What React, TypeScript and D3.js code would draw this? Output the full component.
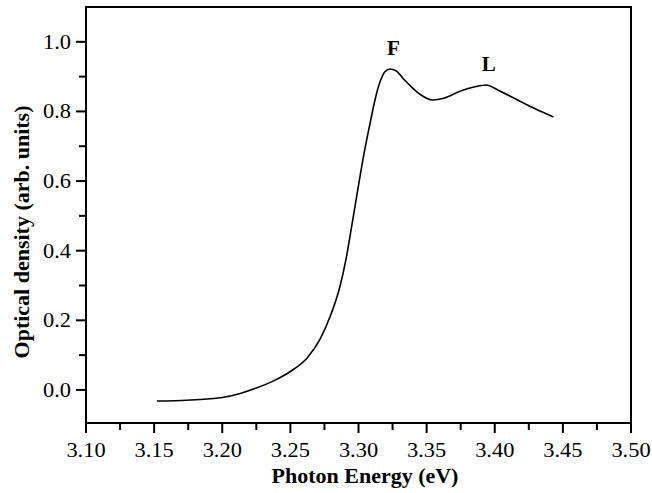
import React from "react";
import * as d3 from "d3";

// photon energy (eV) and optical density
const energy = [3.152, 3.165, 3.1765, 3.1887, 3.201, 3.2132, 3.2255, 3.2377, 3.25, 3.2623, 3.2717, 3.2791, 3.2864, 3.2908, 3.2952, 3.2996, 3.304, 3.3084, 3.3121, 3.3158, 3.3194, 3.3231, 3.3275, 3.3329, 3.339, 3.3456, 3.3542, 3.3627, 3.375, 3.3848, 3.3934, 3.4044, 3.4167, 3.4289, 3.4431];
const density = [-0.032, -0.031, -0.029, -0.026, -0.021, -0.01, 0.006, 0.026, 0.053, 0.092, 0.145, 0.21, 0.297, 0.375, 0.475, 0.578, 0.678, 0.764, 0.833, 0.885, 0.914, 0.922, 0.917, 0.894, 0.87, 0.848, 0.833, 0.838, 0.859, 0.87, 0.876, 0.857, 0.833, 0.809, 0.784];

const xTicks = [3.1, 3.15, 3.2, 3.25, 3.3, 3.35, 3.4, 3.45, 3.5];
const xMinor = [3.125, 3.175, 3.225, 3.275, 3.325, 3.375, 3.425, 3.475];
const yTicks = [0.0, 0.2, 0.4, 0.6, 0.8, 1.0];
const yMinor = [0.1, 0.3, 0.5, 0.7, 0.9];

const peakLabels = ["F", "L"];
const peakEnergy = [3.3235, 3.3934];
const peakDensity = [0.921, 0.876];

const W = 652, H = 493;
const left = 86, right = 631, top = 7, bottom = 423;
const font = "'Liberation Serif', 'Times New Roman', serif";

export default function App() {
  const x = d3.scaleLinear().domain([3.1, 3.5]).range([left, right]);
  const y = d3.scaleLinear().domain([-0.095, 1.1]).range([bottom, top]);

  const pts: [number, number][] = energy.map((e, i) => [e, density[i]]);
  const line = d3.line<[number, number]>()
    .x(d => x(d[0]))
    .y(d => y(d[1]))
    .curve(d3.curveMonotoneX);

  return (
    <svg width={W} height={H} style={{ position: "absolute", left: 0, top: 0, background: "#fff" }}>
      <rect x={left} y={top} width={right - left} height={bottom - top} fill="none" stroke="#000" strokeWidth={2} />

      {/* x axis ticks */}
      {xTicks.map(t => (
        <g key={"xt" + t}>
          <line x1={x(t)} x2={x(t)} y1={bottom} y2={bottom + 10} stroke="#000" strokeWidth={2} />
          <text transform={`translate(${x(t)},${bottom + 34}) scale(1.12,1)`} textAnchor="middle"
            fontFamily={font} fontSize={20}>{t.toFixed(2)}</text>
        </g>
      ))}
      {xMinor.map(t => (
        <line key={"xm" + t} x1={x(t)} x2={x(t)} y1={bottom} y2={bottom + 7} stroke="#000" strokeWidth={2} />
      ))}

      {/* y axis ticks */}
      {yTicks.map(t => (
        <g key={"yt" + t}>
          <line x1={left - 10} x2={left} y1={y(t)} y2={y(t)} stroke="#000" strokeWidth={2} />
          <text transform={`translate(${left - 15},${y(t) + 7}) scale(1.12,1)`} textAnchor="end"
            fontFamily={font} fontSize={20}>{t.toFixed(1)}</text>
        </g>
      ))}
      {yMinor.map(t => (
        <line key={"ym" + t} x1={left - 7} x2={left} y1={y(t)} y2={y(t)} stroke="#000" strokeWidth={2} />
      ))}

      <path d={line(pts) || ""} fill="none" stroke="#000" strokeWidth={1.6} />

      {peakLabels.map((lab, i) => (
        <text key={lab} x={x(peakEnergy[i]) + 3} y={y(peakDensity[i]) - 14} textAnchor="middle"
          fontFamily={font} fontWeight="bold" fontSize={21}>{lab}</text>
      ))}

      <text transform={`translate(365,483) scale(1.1,1)`} textAnchor="middle"
        fontFamily={font} fontWeight="bold" fontSize={20}>Photon Energy (eV)</text>
      <text transform={`translate(29,232) rotate(-90) scale(1.1,1)`} textAnchor="middle"
        fontFamily={font} fontWeight="bold" fontSize={20}>Optical density (arb. units)</text>
    </svg>
  );
}
